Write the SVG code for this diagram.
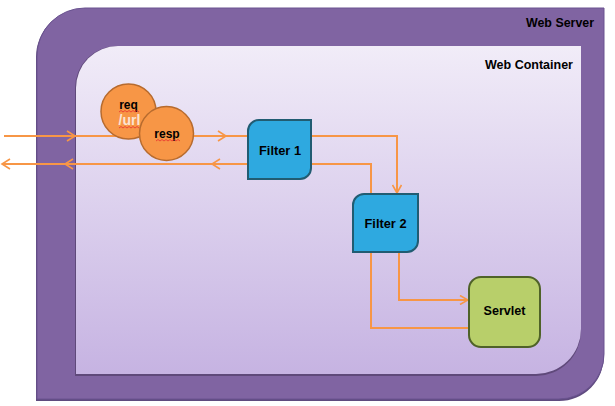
<svg xmlns="http://www.w3.org/2000/svg" width="615" height="406" viewBox="0 0 615 406">
<defs>
<linearGradient id="gc" x1="0" y1="0" x2="0" y2="1">
<stop offset="0" stop-color="#f1ecf8"/>
<stop offset="1" stop-color="#c6b3e2"/>
</linearGradient>
<marker id="ah" viewBox="0 0 10 10" refX="9" refY="5" markerWidth="10" markerHeight="10" markerUnits="userSpaceOnUse" orient="auto">
<path d="M1,0.5 L9,5 L1,9.5" fill="none" stroke="#f79646" stroke-width="1.6"/>
</marker>
</defs>
<style>
.lbl{font-family:"Liberation Sans",Arial,sans-serif;font-weight:bold;fill:#000}
.conn{fill:none;stroke:#f79646;stroke-width:2}
.chev{fill:none;stroke:#f79646;stroke-width:1.6}
.filter{fill:#2ea9e0;stroke:#215c72;stroke-width:2}
.circ{fill:#f79646;stroke:#b76b2e;stroke-width:1.5}
.squig{fill:none;stroke:#e8312f;stroke-width:0.8}
</style>
<g id="web-server">
<path d="M36,57 A48,48 0 0 1 84,9 L604,9 L604,355 A45,45 0 0 1 559,401 L36,401 Z" fill="#5f4a7e"/>
<path d="M37,56 A48,48 0 0 1 85,8 L604,8 L604,354 A45,45 0 0 1 559,399 L37,399 Z" fill="#8064a2" stroke="#6a5390" stroke-width="1"/>
<text class="lbl" x="594" y="27" font-size="13" textLength="68" lengthAdjust="spacingAndGlyphs" text-anchor="end">Web Server</text>
</g>
<g id="web-container">
<path d="M75,88 A42,42 0 0 1 117,46 L581,46 L581,331 A45,45 0 0 1 536,376 L75,376 Z" fill="#5f497a"/>
<path d="M76,88 A42,42 0 0 1 118,46 L581,46 L581,329 A45,45 0 0 1 536,374 L76,374 Z" fill="url(#gc)"/>
<text class="lbl" x="573" y="69" font-size="13" textLength="88" lengthAdjust="spacingAndGlyphs" text-anchor="end">Web Container</text>
</g>
<g id="connectors">
<path class="conn" d="M4,136 L248,136"/>
<path class="chev" d="M67,131 L75,136 L67,141"/>
<path class="chev" d="M218,131 L226,136 L218,141"/>
<path class="conn" d="M248,164 L3,164"/>
<path class="chev" d="M10,159 L2,164 L10,169"/>
<path class="chev" d="M73,159 L65,164 L73,169"/>
<path class="chev" d="M220,159 L212,164 L220,169"/>
<path class="conn" d="M311,136 L397,136 L397,193" marker-end="url(#ah)"/>
<path class="conn" d="M311,164 L371,164 L371,194"/>
<path class="conn" d="M399,252 L399,300 L468,300" marker-end="url(#ah)"/>
<path class="conn" d="M469,328 L371,328 L371,252"/>
</g>
<g id="req">
<circle class="circ" cx="128.5" cy="111.5" r="27.5"/>
<text class="lbl" x="128.5" y="109" font-size="12" text-anchor="middle">req</text>
<text x="129.5" y="125" font-size="14" font-weight="bold" font-family="Liberation Sans, Arial, sans-serif" fill="#fbe3d2" text-anchor="middle">/url</text>
<path class="squig" d="M119,112 l2,-1.5 l2,1.5 l2,-1.5 l2,1.5 l2,-1.5 l2,1.5 l2,-1.5 l2,1.5 l2,-1.5 l2,1.5"/>
<path class="squig" d="M119,128 l2,-1.5 l2,1.5 l2,-1.5 l2,1.5 l2,-1.5 l2,1.5 l2,-1.5 l2,1.5 l2,-1.5 l2,1.5"/>
</g>
<g id="resp">
<circle class="circ" cx="166.5" cy="133.5" r="27"/>
<text class="lbl" x="167" y="138" font-size="12" text-anchor="middle">resp</text>
<path class="squig" d="M156,141 l2,-1.5 l2,1.5 l2,-1.5 l2,1.5 l2,-1.5 l2,1.5 l2,-1.5 l2,1.5 l2,-1.5 l2,1.5 l2,-1.5 l2,1.5"/>
</g>
<g id="filter1">
<path class="filter" d="M248,131 A11,11 0 0 1 259,120 L311,120 L311,168 A11,11 0 0 1 300,179 L248,179 Z"/>
<text class="lbl" x="280" y="155" font-size="13" textLength="42" lengthAdjust="spacingAndGlyphs" text-anchor="middle">Filter 1</text>
</g>
<g id="filter2">
<path class="filter" d="M353,205 A11,11 0 0 1 364,194 L418,194 L418,241 A11,11 0 0 1 407,252 L353,252 Z"/>
<text class="lbl" x="385.5" y="228" font-size="13" textLength="42" lengthAdjust="spacingAndGlyphs" text-anchor="middle">Filter 2</text>
</g>
<g id="servlet">
<rect x="469" y="277" width="71" height="70" rx="12" ry="12" fill="#b8cf6a" stroke="#4f6228" stroke-width="2"/>
<text class="lbl" x="504.5" y="315" font-size="13" textLength="42" lengthAdjust="spacingAndGlyphs" text-anchor="middle">Servlet</text>
</g>
</svg>
